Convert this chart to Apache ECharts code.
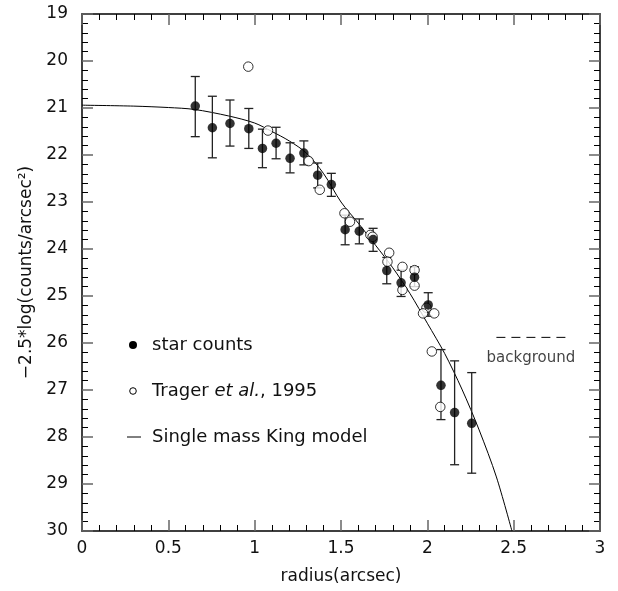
<!DOCTYPE html>
<html lang="en">
<head>
    <meta charset="UTF-8">
    <title>King model profile</title>
    <script src="https://cdn.jsdelivr.net/npm/echarts@6/dist/echarts.min.js"></script>
    <style>
        body, html {
            margin: 0;
            padding: 0;
            width: 100%;
            height: 100%;
            background-color: #fff;
        }
        #container {
            width: 618px;
            height: 591px;
        }
    </style>
</head>
<body>
    <div id="container"></div>
    <script>
        // star counts: radius, mag, error top, error bottom
        var starRadius = [0.656, 0.755, 0.857, 0.966, 1.045, 1.124, 1.205, 1.285, 1.365, 1.444,
                          1.524, 1.606, 1.686, 1.765, 1.848, 1.926, 2.005, 2.079, 2.158, 2.257];
        var starMag    = [20.96, 21.42, 21.33, 21.44, 21.86, 21.75, 22.07, 21.96, 22.43, 22.63,
                          23.59, 23.62, 23.80, 24.46, 24.72, 24.60, 25.19, 26.90, 27.48, 27.71];
        var starErrLo  = [20.33, 20.75, 20.83, 21.01, 21.45, 21.41, 21.74, 21.70, 22.17, 22.39,
                          23.28, 23.36, 23.56, 24.18, 24.45, 24.38, 24.93, 26.14, 26.38, 26.63];
        var starErrHi  = [21.61, 22.06, 21.81, 21.86, 22.27, 22.08, 22.38, 22.21, 22.70, 22.88,
                          23.91, 23.89, 24.05, 24.74, 25.01, 24.80, 25.43, 27.63, 28.59, 28.77];

        // Trager et al. 1995
        var tragerRadius = [0.963, 1.077, 1.313, 1.377, 1.520, 1.552, 1.670, 1.683, 1.779, 1.769,
                            1.856, 1.856, 1.926, 1.926, 1.995, 1.975, 2.040, 2.026, 2.075];
        var tragerMag    = [20.12, 21.48, 22.13, 22.74, 23.24, 23.42, 23.70, 23.74, 24.08, 24.27,
                            24.38, 24.87, 24.45, 24.78, 25.25, 25.37, 25.37, 26.18, 27.36];

        // single mass King model
        var kingRadius = [0, 0.3, 0.5, 0.65, 0.85, 1.0, 1.1, 1.2, 1.3, 1.4, 1.5, 1.6, 1.7,
                          1.8, 1.9, 2.0, 2.1, 2.2, 2.3, 2.4, 2.49];
        var kingMag    = [20.94, 20.96, 20.99, 21.03, 21.17, 21.32, 21.50, 21.70, 21.96, 22.40,
                          23.00, 23.45, 23.92, 24.40, 24.95, 25.58, 26.22, 26.98, 27.85, 28.85, 30.0];

        // background level
        var bgRadius = [2.40, 2.80];
        var bgMag = 25.88;

        var xTicks = [0, 0.5, 1, 1.5, 2, 2.5, 3];

        var font = 'DejaVu Sans';
        var ink = '#111';

        var starData = starRadius.map(function (r, i) { return [r, starMag[i]]; });
        var errData = starRadius.map(function (r, i) { return [r, starErrLo[i], starErrHi[i]]; });
        var tragerData = tragerRadius.map(function (r, i) { return [r, tragerMag[i]]; });
        var kingData = kingRadius.map(function (r, i) { return [r, kingMag[i]]; });
        var bgData = bgRadius.map(function (r) { return [r, bgMag]; });

        function axisBase(pos, showLabel) {
            return {
                type: 'value',
                position: pos,
                axisLine: { show: true, onZero: false, lineStyle: { color: '#000', width: 1.5 } },
                axisTick: { show: true, inside: true, length: 11, lineStyle: { color: '#666', width: 1.5 } },
                minorTick: { show: true, splitNumber: 5, length: 6, lineStyle: { color: '#000', width: 1 } },
                splitLine: { show: false },
                axisLabel: { show: showLabel, color: ink, fontFamily: font, fontSize: 17 }
            };
        }

        var xBottom = Object.assign(axisBase('bottom', true), {
            min: 0, max: 3, interval: 0.5,
            name: 'radius(arcsec)', nameLocation: 'middle', nameGap: 37,
            nameTextStyle: { color: ink, fontFamily: font, fontSize: 17 }
        });
        xBottom.axisLabel.margin = 9;
        xBottom.axisLabel.formatter = function (v) {
            return xTicks.indexOf(v) >= 0 ? String(v) : '';
        };
        var xTop = Object.assign(axisBase('top', false), { min: 0, max: 3, interval: 0.5 });

        var yLeft = Object.assign(axisBase('left', true), {
            min: 19, max: 30, interval: 1, inverse: true,
            name: '\u22122.5*log(counts/arcsec\u00b2)', nameLocation: 'middle', nameGap: 46,
            nameRotate: 90,
            nameTextStyle: { color: ink, fontFamily: font, fontSize: 17 }
        });
        yLeft.axisLabel.margin = 14;
        var yRight = Object.assign(axisBase('right', false), { min: 19, max: 30, interval: 1, inverse: true });

        var option = {
            backgroundColor: '#fff',
            animation: false,
            grid: { left: 82, right: 18, top: 14, bottom: 60 },
            xAxis: [xBottom, xTop],
            yAxis: [yLeft, yRight],
            series: [
                {
                    // King model curve
                    type: 'line',
                    data: kingData,
                    smooth: 0.3,
                    symbol: 'none',
                    lineStyle: { color: '#000', width: 1 },
                    z: 2
                },
                {
                    // background dashed level
                    type: 'line',
                    data: bgData,
                    symbol: 'none',
                    lineStyle: { color: '#000', width: 1, type: [9, 6] },
                    z: 2
                },
                {
                    type: 'scatter',
                    data: [[(bgRadius[0] + bgRadius[1]) / 2, bgMag]],
                    symbolSize: 0,
                    label: {
                        show: true, formatter: 'background', position: 'bottom', distance: 13,
                        color: ink, fontFamily: font, fontSize: 15
                    }
                },
                {
                    // error bars
                    type: 'custom',
                    data: errData,
                    renderItem: function (params, api) {
                        var top = api.coord([api.value(0), api.value(1)]);
                        var bot = api.coord([api.value(0), api.value(2)]);
                        var w = 4.5;
                        var st = { stroke: '#222', lineWidth: 1.3 };
                        return {
                            type: 'group',
                            children: [
                                { type: 'line', shape: { x1: top[0], y1: top[1], x2: bot[0], y2: bot[1] }, style: st },
                                { type: 'line', shape: { x1: top[0] - w, y1: top[1], x2: top[0] + w, y2: top[1] }, style: st },
                                { type: 'line', shape: { x1: bot[0] - w, y1: bot[1], x2: bot[0] + w, y2: bot[1] }, style: st }
                            ]
                        };
                    },
                    z: 3
                },
                {
                    type: 'scatter',
                    data: tragerData,
                    symbol: 'circle',
                    symbolSize: 9.5,
                    itemStyle: { color: '#fff', borderColor: '#000', borderWidth: 1 },
                    z: 4
                },
                {
                    type: 'scatter',
                    data: starData,
                    symbol: 'circle',
                    symbolSize: 9.5,
                    itemStyle: { color: '#000' },
                    z: 5
                }
            ],
            graphic: [
                { type: 'circle', shape: { cx: 133, cy: 345, r: 4 }, style: { fill: '#000' } },
                { type: 'text', x: 152, y: 345, style: { text: 'star counts', fill: ink, font: '18px ' + font, verticalAlign: 'middle' } },
                { type: 'circle', shape: { cx: 133, cy: 391, r: 3.3 }, style: { fill: '#fff', stroke: '#000', lineWidth: 1 } },
                {
                    type: 'text', x: 152, y: 391,
                    style: {
                        text: '{n|Trager }{i|et al.}{n|, 1995}',
                        verticalAlign: 'middle',
                        rich: {
                            n: { fill: ink, font: '18px ' + font },
                            i: { fill: ink, font: 'italic 18px ' + font }
                        }
                    }
                },
                { type: 'line', shape: { x1: 127, y1: 437, x2: 141, y2: 437 }, style: { stroke: '#000', lineWidth: 1 } },
                { type: 'text', x: 152, y: 437, style: { text: 'Single mass King model', fill: ink, font: '18px ' + font, verticalAlign: 'middle' } }
            ]
        };

        var chart = echarts.init(document.getElementById('container'));
        chart.setOption(option);
    </script>
</body>
</html>
